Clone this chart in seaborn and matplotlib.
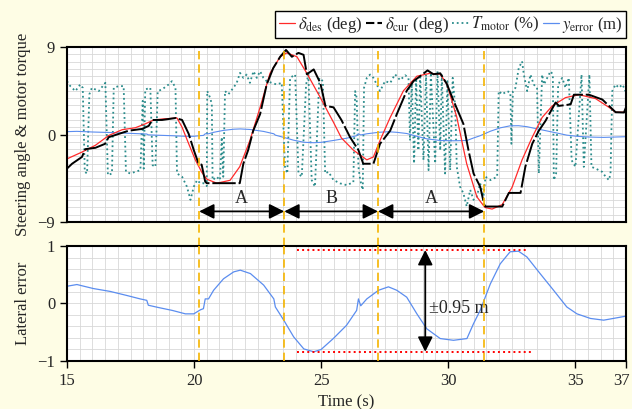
import matplotlib
matplotlib.use("Agg")
import matplotlib.pyplot as plt
from matplotlib.lines import Line2D
from matplotlib.ticker import MultipleLocator
from matplotlib.transforms import ScaledTranslation
import seaborn as sns

# steering angle commanded (deg)
t_des = [15.0, 15.59, 16.12, 16.64, 17.17, 17.69, 18.08, 18.41, 18.74, 19.33, 19.53, 19.79,
         20.05, 20.31, 20.51, 20.9, 21.42, 21.8, 22.2, 22.6, 22.99, 23.39, 23.65, 24.05,
         24.44, 24.97, 25.49, 25.8, 26.27, 26.8, 27.06, 27.32, 27.72, 28.24, 28.77, 29.29,
         29.69, 29.95, 30.34, 30.73, 31.13, 31.45, 31.73, 32.13, 32.52, 32.91, 33.31, 33.7,
         34.1, 34.62, 35.15, 35.8, 36.33, 36.59, 37.0]
d_des = [-2.5, -1.8, -1.1, -0.1, 0.5, 0.7, 1.1, 1.5, 1.6, 1.7, 0.75, -0.95,
         -2.6, -3.9, -4.6, -5.0, -4.7, -3.3, -0.6, 2.8, 6.3, 8.0, 8.4, 8.0,
         6.3, 3.8, 1.25, -0.35, -1.6, -2.6, -2.3, -0.6, 1.76, 4.5, 6.0, 6.3,
         6.2, 5.2, 1.8, -3.0, -6.4, -7.5, -7.66, -7.2, -5.4, -2.6, -0.27, 1.76,
         2.95, 3.8, 4.1, 3.7, 2.8, 2.3, 2.3]

# steering angle measured (deg)
t_cur = [15.0, 15.2, 15.59, 15.72, 16.12, 16.5, 16.64, 17.04, 17.43, 17.96, 18.22, 18.35,
         18.74, 19.27, 19.53, 19.79, 19.99, 20.18, 20.3, 20.44, 20.5, 21.8, 21.94, 22.13,
         22.33, 22.6, 22.86, 23.12, 23.39, 23.62, 23.85, 24.11, 24.31, 24.44, 24.71, 24.97,
         25.17, 25.49, 25.8, 26.14, 26.47, 26.66, 27.06, 27.32, 27.72, 27.98, 28.37, 28.64,
         28.9, 29.19, 29.42, 29.69, 29.95, 30.21, 30.6, 30.8, 31.0, 31.26, 31.42, 31.47,
         32.13, 32.39, 32.85, 33.04, 33.31, 33.57, 33.83, 34.23, 34.36, 34.82, 34.95, 35.54,
         36.07, 36.33, 36.59, 36.92, 37.0]
d_cur = [-3.5, -3.0, -2.3, -1.5, -1.36, -0.95, -0.27, 0.07, 0.4, 0.58, 0.9, 1.5,
         1.5, 1.7, 1.5, 0.07, -1.6, -3.0, -3.1, -4.85, -5.0, -5.0, -3.0, -1.6,
         0.4, 2.1, 5.15, 6.85, 8.0, 8.7, 8.0, 8.4, 8.2, 6.2, 6.7, 5.3,
         2.95, 2.8, 1.5, -0.27, -1.6, -3.0, -3.0, -0.95, 0.4, 2.1, 4.5, 5.5,
         6.0, 6.6, 6.2, 6.3, 5.2, 3.5, 1.1, -1.6, -4.0, -5.35, -7.2, -7.4,
         -7.4, -6.0, -6.0, -3.3, -0.95, 0.4, 1.4, 3.3, 2.95, 3.1, 4.1, 4.1,
         3.6, 2.95, 2.3, 2.27, 2.8]

# motor torque (%)
t_mot = [15.0, 15.13, 15.33, 15.52, 15.62, 15.7, 15.79, 15.88, 15.98, 16.25, 16.51, 16.61,
         16.77, 16.84, 17.03, 17.23, 17.32, 17.49, 17.69, 17.89, 17.98, 18.02, 18.08, 18.28,
         18.37, 18.48, 18.57, 18.74, 19.0, 19.13, 19.27, 19.33, 19.53, 19.72, 19.86, 19.99,
         20.12, 20.25, 20.37, 20.5, 20.52, 20.63, 20.7, 20.73, 20.89, 21.02, 21.09, 21.15,
         21.22, 21.35, 21.55, 21.68, 21.81, 21.94, 22.07, 22.2, 22.34, 22.47, 22.6, 22.73,
         22.86, 23.06, 23.25, 23.45, 23.58, 23.67, 23.78, 23.98, 24.11, 24.24, 24.41, 24.5,
         24.63, 24.76, 24.93, 25.07, 25.16, 25.29, 25.49, 25.75, 26.01, 26.27, 26.34, 26.4,
         26.47, 26.54, 26.64, 26.69, 26.8, 26.93, 27.06, 27.19, 27.32, 27.52, 27.72, 27.91,
         28.11, 28.31, 28.44, 28.5, 28.57, 28.66, 28.74, 28.83, 28.9, 29.03, 29.13, 29.23,
         29.32, 29.49, 29.58, 29.69, 29.75, 29.88, 29.97, 30.08, 30.18, 30.28, 30.34, 30.47,
         30.6, 30.73, 30.87, 31.0, 31.13, 31.26, 31.39, 31.47, 31.67, 31.93, 31.99, 32.13,
         32.32, 32.45, 32.49, 32.55, 32.65, 32.78, 32.91, 32.98, 33.11, 33.24, 33.37, 33.5,
         33.57, 33.7, 33.77, 33.9, 34.03, 34.12, 34.16, 34.25, 34.33, 34.49, 34.62, 34.75,
         34.86, 35.01, 35.25, 35.34, 35.56, 35.64, 35.8, 36.06, 36.2, 36.33, 36.39, 36.46,
         36.59, 36.72, 36.86, 36.98, 37.0]
torque = [5.49, 4.98, 4.47, 5.15, 4.81, -3.83, -4.0, 4.14, 4.81, 4.47, 5.32, -4.17,
          -4.0, 4.81, 4.98, 4.98, -3.83, -4.0, -3.83, -3.66, 3.46, -3.5, 4.64, 4.81,
          -3.15, -3.32, 4.47, 4.64, 5.15, 5.49, 4.81, -4.0, -4.34, -5.36, -6.71, -5.36,
          -4.68, -5.02, -5.0, -5.3, 4.47, 3.8, 3.12, -4.68, -4.34, -4.68, -0.27, -4.34,
          4.47, 4.14, 4.81, 5.32, 6.34, 5.83, 6.17, 5.32, 6.51, 5.83, 6.51, 5.83,
          5.49, 5.32, 5.15, 5.32, -3.32, -4.0, 5.83, 6.17, -4.0, -4.34, 5.15, 6.17,
          -4.68, -5.36, 5.83, 5.49, -4.0, -3.83, -4.68, -5.02, -5.2, -4.9, 4.47, 3.8,
          -3.32, -4.68, -5.69, 4.81, 5.83, 6.17, 5.83, 5.15, 4.47, 5.5, 5.3, 6.2,
          5.6, 6.1, 5.83, -0.61, 5.49, -2.98, 5.83, -1.63, 6.17, -2.64, 6.17, -3.66,
          6.34, -2.98, 6.51, -1.63, 6.17, -4.0, 5.49, -3.66, 5.83, 2.78, -3.32, -5.36,
          -6.03, -7.39, -5.69, -6.71, -6.37, -5.02, -6.37, -4.34, -4.68, -4.34, 4.47, 4.14,
          4.47, 4.31, -0.95, 4.47, 4.81, 6.85, 7.53, 6.17, 4.47, 6.17, 5.15, 4.81,
          -4.0, 6.17, 5.15, 5.83, 6.51, 6.17, -4.68, -4.0, 5.15, 5.83, 4.81, 5.83,
          -2.64, -3.32, 6.17, -3.32, 6.17, -3.32, -3.49, -3.83, -4.34, -4.68, -4.0, 4.47,
          5.15, 4.81, 5.15, 4.47, 4.98]

# lateral error (m)
t_err = [15.0, 15.39, 16.04, 16.7, 17.35, 17.88, 18.14, 18.2, 18.6, 19.14, 19.66, 19.99,
         20.25, 20.37, 20.44, 20.57, 20.77, 21.16, 21.56, 21.82, 22.22, 22.74, 23.14, 23.2,
         23.53, 23.92, 24.32, 24.71, 25.0, 25.48, 26.0, 26.4, 26.47, 26.56, 26.8, 27.26,
         27.65, 27.98, 28.37, 28.77, 29.16, 29.69, 30.21, 30.74, 31.0, 31.26, 31.66, 32.05,
         32.44, 32.77, 33.1, 33.62, 34.15, 34.67, 35.07, 35.6, 36.12, 36.5, 37.0]
y_err = [0.30, 0.33, 0.26, 0.21, 0.14, 0.08, 0.055, -0.03, -0.07, -0.12, -0.18, -0.18,
         -0.11, -0.09, 0.08, 0.08, 0.23, 0.43, 0.55, 0.58, 0.52, 0.32, 0.08, -0.06,
         -0.29, -0.58, -0.79, -0.84, -0.8, -0.61, -0.38, -0.12, 0.08, -0.04, 0.08, 0.23,
         0.29, 0.23, 0.11, -0.18, -0.44, -0.61, -0.64, -0.61, -0.35, -0.12, 0.34, 0.69,
         0.90, 0.91, 0.81, 0.52, 0.23, -0.06, -0.18, -0.26, -0.29, -0.26, -0.22]

phase_times = [20.2, 23.55, 27.24, 31.42]
phase_names = ["A", "B", "A"]
band_hi, band_lo = 0.93, -0.84

sns.set_style("ticks")
plt.rcParams['font.family'] = ['Liberation Serif', 'DejaVu Serif']
plt.rcParams['mathtext.fontset'] = 'stix'

c_des, c_cur, c_mot, c_err = '#ff2a2a', 'black', '#2b8c8c', '#5b8def'
orange = '#f5b400'

fig = plt.figure(figsize=(6.32, 4.09), dpi=100, facecolor='#fefde5')
ax1 = fig.add_axes([0.106, 0.457, 0.8845, 0.428])
ax2 = fig.add_axes([0.106, 0.1174, 0.8845, 0.2811])

sns.lineplot(x=t_mot, y=torque, ax=ax1, color=c_mot, lw=1.3, linestyle=':', estimator=None)
sns.lineplot(x=t_err, y=y_err, ax=ax1, color=c_err, lw=0.8, estimator=None)
sns.lineplot(x=t_des, y=d_des, ax=ax1, color=c_des, lw=0.9, estimator=None)
sns.lineplot(x=t_cur, y=d_cur, ax=ax1, color=c_cur, lw=1.4, linestyle=(0, (12, 1.5)), estimator=None)
sns.lineplot(x=t_err, y=y_err, ax=ax2, color=c_err, lw=0.9, estimator=None)

for ax in (ax1, ax2):
    ax.set_facecolor('white')
    ax.set_xlim(15, 37)
    ax.xaxis.set_minor_locator(MultipleLocator(0.5))
    ax.grid(which='both', color='#d8d8d8', lw=0.6)
    ax.set_axisbelow(True)
    ax.tick_params(which='minor', length=0)
    ax.tick_params(which='major', direction='out', length=5, width=1, labelsize=12, color='black')
    for s in ax.spines.values():
        s.set_linewidth(1.5)
        s.set_color('black')

ax1.set_ylim(-9, 9)
ax1.set_yticks([-9, 0, 9])
ax1.yaxis.set_minor_locator(MultipleLocator(0.75))
ax1.set_xticks([15, 20, 25, 30, 35, 37])
ax1.tick_params(axis='x', length=0, labelbottom=False)
ax1.set_ylabel('Steering angle & motor torque', fontsize=12)
ax1.yaxis.set_label_coords(-0.064, 0.5)

ax2.set_ylim(-1, 1)
ax2.set_yticks([-1, 0, 1])
ax2.yaxis.set_minor_locator(MultipleLocator(0.2))
ax2.set_xticks([15, 20, 25, 30, 35, 37])
ax2.set_ylabel('Lateral error', fontsize=12)
ax2.yaxis.set_label_coords(-0.064, 0.5)
ax2.set_xlabel('Time (s)', fontsize=12)
ax2.xaxis.set_label_coords(0.5, -0.29)

gap = (0.457 - 0.3985) / 0.428
for t in phase_times:
    ax1.axvline(t, ymin=-gap, ymax=1, clip_on=False, color=orange, lw=1.2, ls=(0, (5, 3)), zorder=5)
    ax2.axvline(t, color=orange, lw=1.2, ls=(0, (5, 3)), zorder=5)

head = '<|-|>,head_length=0.6,head_width=0.3'
for i, name in enumerate(phase_names):
    t0, t1 = phase_times[i], phase_times[i + 1]
    ax1.annotate('', xy=(t1, -7.9), xytext=(t0, -7.9),
                 arrowprops=dict(arrowstyle=head, color='black', lw=1.3,
                                 mutation_scale=15, shrinkA=0, shrinkB=0))
    ax1.text((t0 + t1) / 2, -6.6, name, ha='center', va='center', fontsize=13)

ax2.hlines(band_hi, 24.05, 33.15, colors='red', linestyles=':', lw=1.4, zorder=4)
ax2.hlines(band_lo, 24.05, 33.3, colors='red', linestyles=':', lw=1.4, zorder=4)
ax2.annotate('', xy=(29.1, band_hi), xytext=(29.1, band_lo),
             arrowprops=dict(arrowstyle=head, color='black', lw=1.3,
                             mutation_scale=15, shrinkA=0, shrinkB=0))
ax2.text(29.25, -0.08, '\u00b10.95 m', ha='left', va='center', fontsize=13)

handles = [Line2D([], [], color=c_des, lw=0.9),
           Line2D([], [], color=c_cur, lw=1.5, ls=(0, (4, 1.5))),
           Line2D([], [], color=c_mot, lw=1.3, ls=':'),
           Line2D([], [], color=c_err, lw=0.9)]
labels = [r'$\delta_{\mathrm{des}}$ (deg)', r'$\delta_{\mathrm{cur}}$ (deg)',
          r'$T_{\mathrm{motor}}$ (%)', r'$y_{\mathrm{error}}$ (m)']
leg = fig.legend(handles, labels, loc='upper right', bbox_to_anchor=(0.9905, 0.972), ncol=4,
                 frameon=True, fancybox=False, edgecolor='black', framealpha=1,
                 handlelength=1.0, handletextpad=0.15, columnspacing=0.2, borderpad=0.2,
                 borderaxespad=0, fontsize=12)
leg.get_frame().set_linewidth(1.0)

# keep the last time label inside the picture
fig.canvas.draw()
last = ax2.get_xticklabels()[-1]
last.set_transform(last.get_transform() + ScaledTranslation(-3 / 72, 0, fig.dpi_scale_trans))

fig.savefig('out.png', dpi=100, facecolor=fig.get_facecolor())
